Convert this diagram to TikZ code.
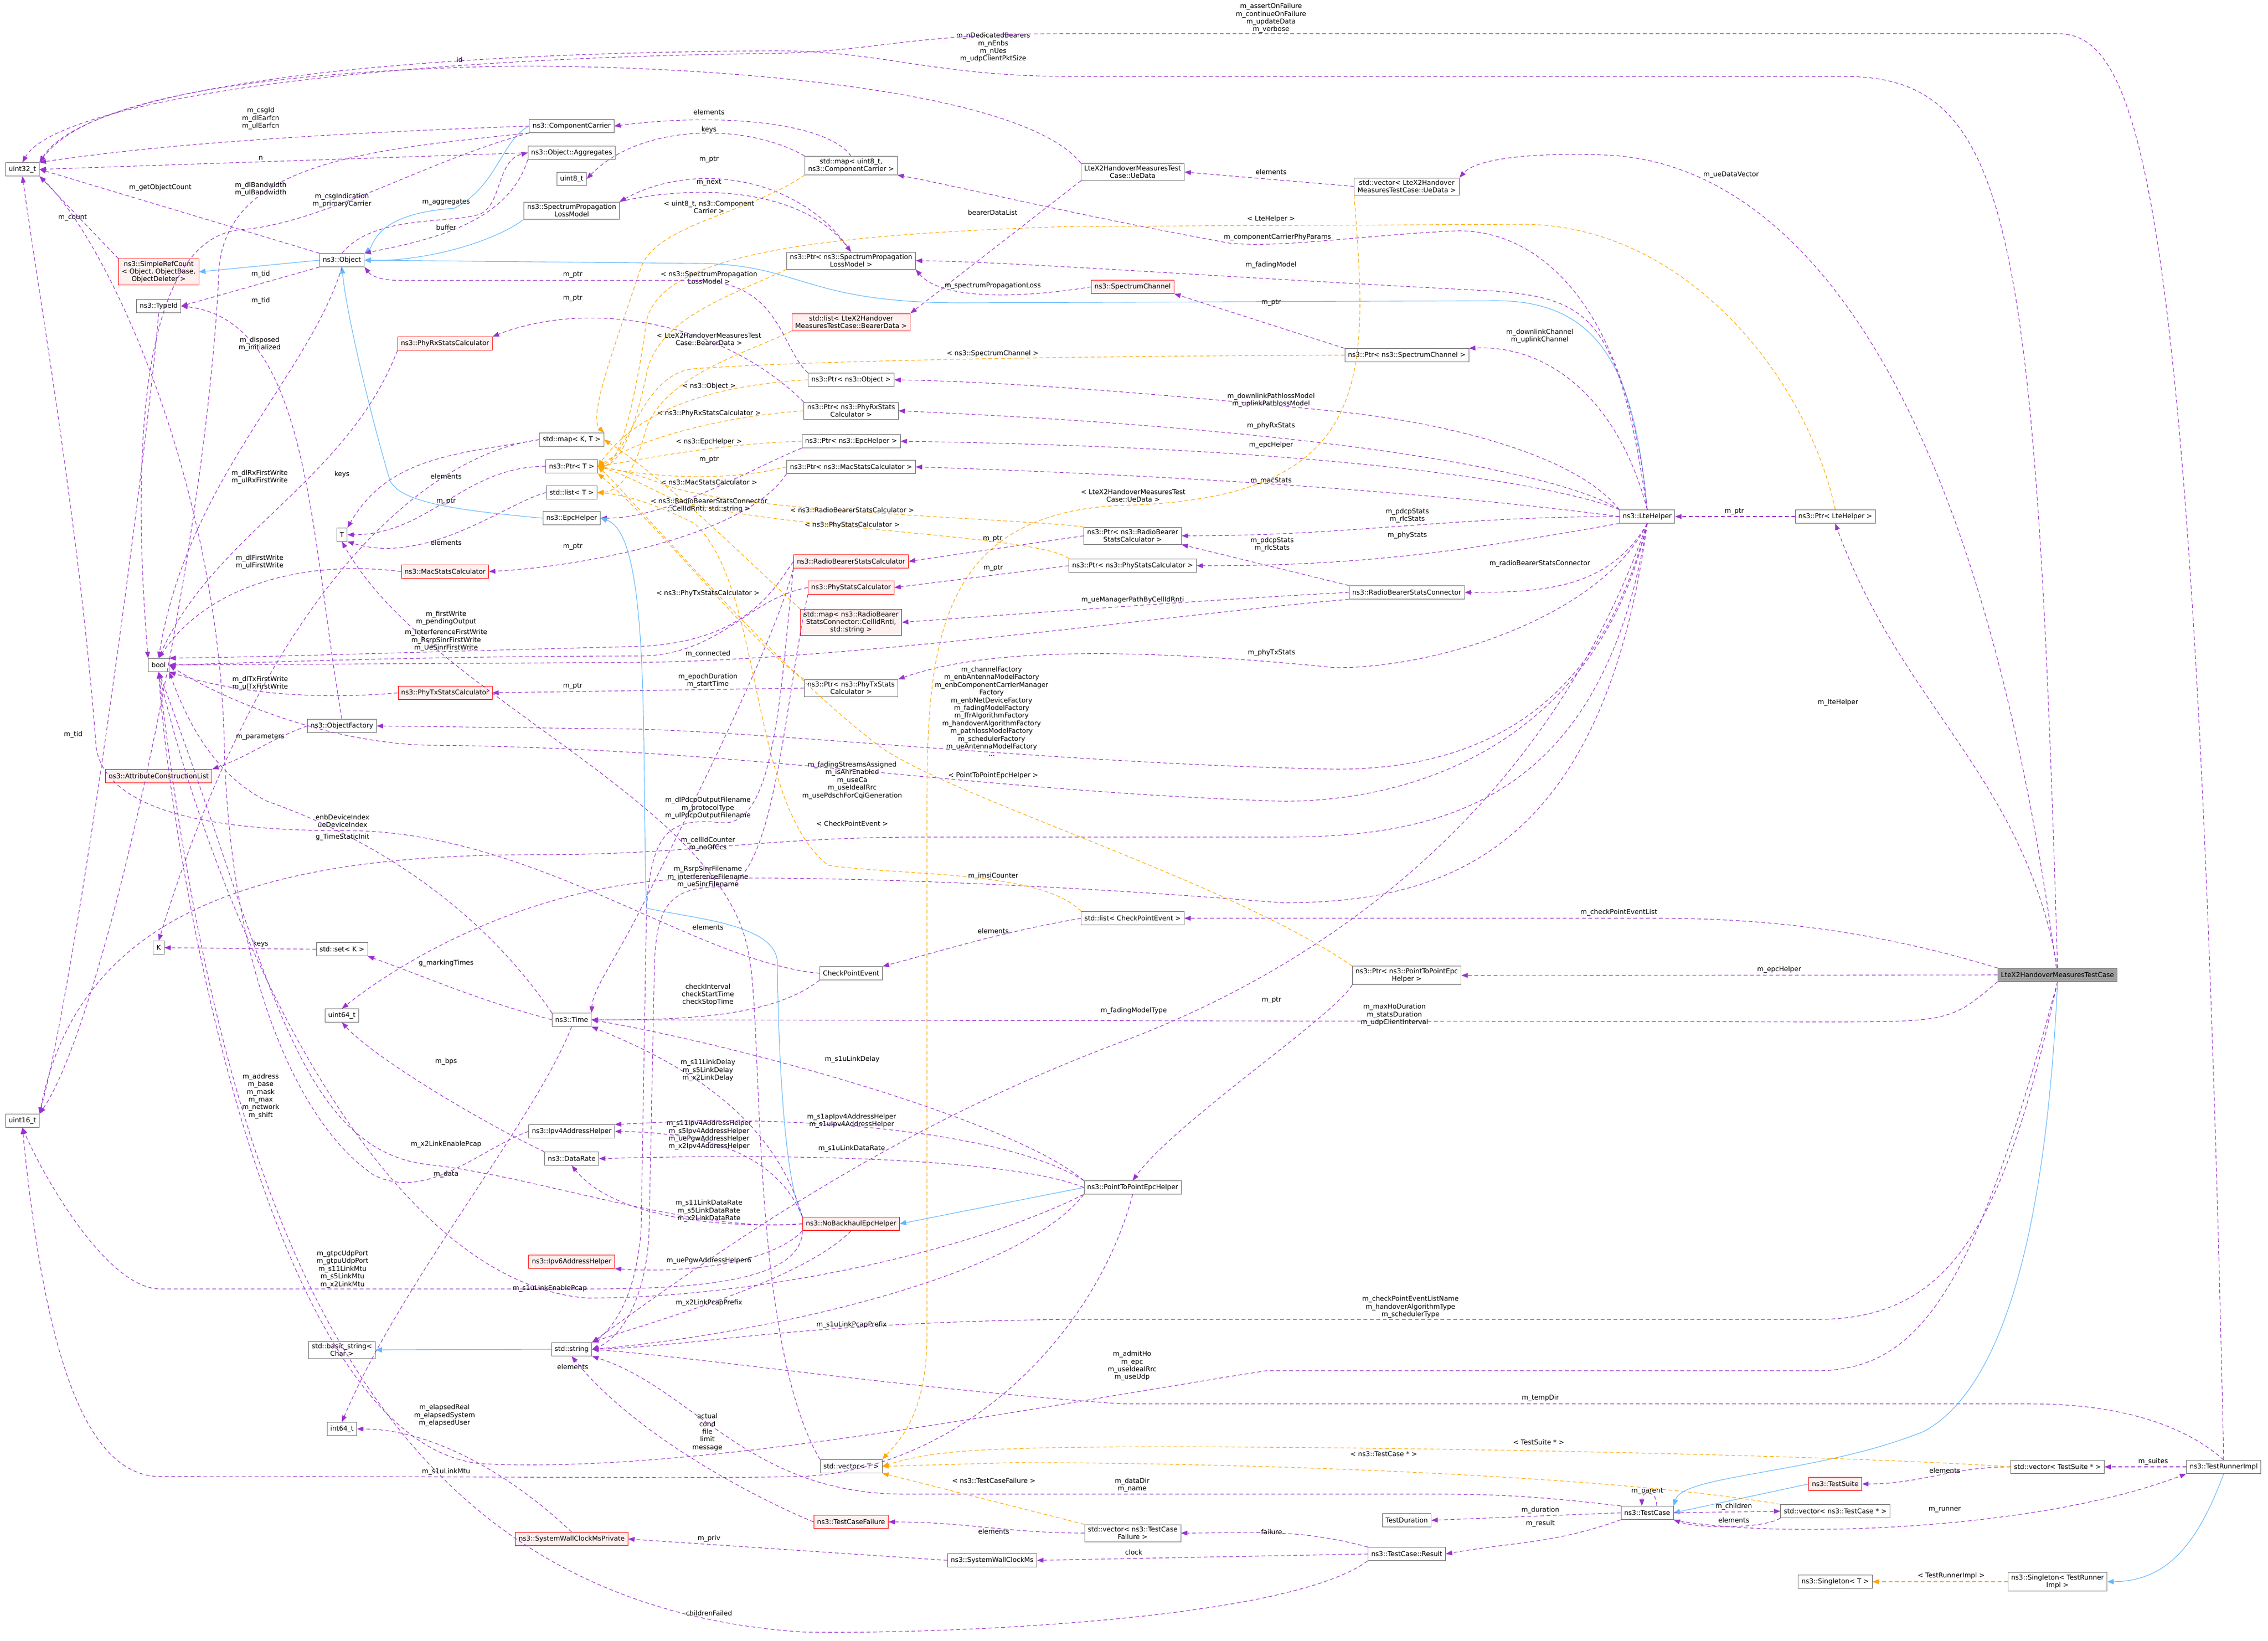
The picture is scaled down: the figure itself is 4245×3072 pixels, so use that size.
\documentclass[tikz,border=0pt]{standalone}
\usepackage{fontspec}
\setmainfont{DejaVu Sans}
\usetikzlibrary{arrows.meta}
\definecolor{purp}{RGB}{154,50,205}
\definecolor{blu}{RGB}{99,184,255}
\definecolor{orng}{RGB}{255,165,0}
\definecolor{bgray}{RGB}{110,110,110}
\definecolor{rfill}{RGB}{255,240,240}
\newcounter{labc}
\newcommand\lab[3]{\stepcounter{labc}\node[lbl] (lab\arabic{labc}) at (#1,-#2) {#3};}
\begin{document}
\begin{tikzpicture}[x=1pt,y=1pt,
  font=\fontsize{12.5}{14.4}\selectfont,
  box/.style={draw=bgray,fill=white,line width=0.9pt,inner xsep=6pt,inner ysep=4pt,align=center,minimum height=25pt},
  rbox/.style={box,draw=red,fill=rfill},
  mbox/.style={box,fill=gray!75},
  lbl/.style={inner sep=0pt,align=center},
  pu/.style={draw=purp,line width=1.1pt,dash pattern=on 7pt off 5pt,-{Triangle[length=12pt,width=9pt]}},
  inh/.style={draw=blu,line width=1.1pt,-{Triangle[length=12pt,width=10pt]}},
  tp/.style={draw=orng,line width=1.1pt,dash pattern=on 7pt off 5pt,-{Triangle[length=12pt,width=9pt]}}]
\useasboundingbox[fill=white] (0,0) rectangle (4245,-3072);
% nodes
\node[box] (u32) at (42,-317) {uint32\_t};
\node[rbox] (src) at (297,-509) {ns3::SimpleRefCount\\< Object, ObjectBase,\\ObjectDeleter >};
\node[box] (tid) at (297,-573) {ns3::TypeId};
\node[box] (obj) at (640,-487) {ns3::Object};
\node[rbox] (phyrx) at (833,-643) {ns3::PhyRxStatsCalculator};
\node[box] (T) at (640,-1001) {T};
\node[rbox] (mac) at (833,-1070) {ns3::MacStatsCalculator};
\node[box] (cc) at (1070,-236) {ns3::ComponentCarrier};
\node[box] (agg) at (1070,-286) {ns3::Object::Aggregates};
\node[box] (u8) at (1070,-335) {uint8\_t};
\node[box] (splm) at (1070,-394) {ns3::SpectrumPropagation\\LossModel};
\node[box] (mapcc) at (1593,-310) {std::map< uint8\_t,\\ns3::ComponentCarrier >};
\node[box] (pspl) at (1593,-488) {ns3::Ptr< ns3::SpectrumPropagation\\LossModel >};
\node[rbox] (lbd) at (1593,-603) {std::list< LteX2Handover\\MeasuresTestCase::BearerData >};
\node[box] (pobj) at (1593,-711) {ns3::Ptr< ns3::Object >};
\node[box] (pphyrx) at (1593,-769) {ns3::Ptr< ns3::PhyRxStats\\Calculator >};
\node[box] (pepc) at (1593,-826) {ns3::Ptr< ns3::EpcHelper >};
\node[box] (pmac) at (1593,-874) {ns3::Ptr< ns3::MacStatsCalculator >};
\node[box] (mapkt) at (1070,-823) {std::map< K, T >};
\node[box] (ptrt) at (1070,-873) {ns3::Ptr< T >};
\node[box] (listt) at (1070,-922) {std::list< T >};
\node[box] (epc) at (1070,-970) {ns3::EpcHelper};
\node[rbox] (rbsc) at (1593,-1051) {ns3::RadioBearerStatsCalculator};
\node[rbox] (phys) at (1593,-1100) {ns3::PhyStatsCalculator};
\node[rbox] (mapcir) at (1593,-1165) {std::map< ns3::RadioBearer\\StatsConnector::CellIdRnti,\\std::string >};
\node[box] (pphytx) at (1593,-1288) {ns3::Ptr< ns3::PhyTxStats\\Calculator >};
\node[box] (uedata) at (2120,-322) {LteX2HandoverMeasuresTest\\Case::UeData};
\node[box] (vued) at (2633,-349) {std::vector< LteX2Handover\\MeasuresTestCase::UeData >};
\node[rbox] (spch) at (2120,-537) {ns3::SpectrumChannel};
\node[box] (pspch) at (2633,-665) {ns3::Ptr< ns3::SpectrumChannel >};
\node[box] (lte) at (3083,-967) {ns3::LteHelper};
\node[box] (prbsc) at (2120,-1003) {ns3::Ptr< ns3::RadioBearer\\StatsCalculator >};
\node[box] (pphys) at (2120,-1059) {ns3::Ptr< ns3::PhyStatsCalculator >};
\node[box] (rbscon) at (2633,-1109) {ns3::RadioBearerStatsConnector};
\node[box] (plte) at (3435,-967) {ns3::Ptr< LteHelper >};
\node[box] (bool) at (297,-1245) {bool};
\node[rbox] (phytx) at (833,-1297) {ns3::PhyTxStatsCalculator};
\node[box] (ofac) at (640,-1359) {ns3::ObjectFactory};
\node[rbox] (acl) at (297,-1453) {ns3::AttributeConstructionList};
\node[box] (K) at (297,-1774) {K};
\node[box] (setk) at (640,-1777) {std::set< K >};
\node[box] (u64) at (640,-1901) {uint64\_t};
\node[box] (time) at (1070,-1909) {ns3::Time};
\node[box] (lcpe) at (2120,-1719) {std::list< CheckPointEvent >};
\node[box] (cpe) at (1593,-1822) {CheckPointEvent};
\node[box] (pp2p) at (2633,-1826) {ns3::Ptr< ns3::PointToPointEpc\\Helper >};
\node[mbox] (main) at (3851,-1825) {LteX2HandoverMeasuresTestCase};
\node[box] (u16) at (42,-2098) {uint16\_t};
\node[box] (ipv4) at (1070,-2118) {ns3::Ipv4AddressHelper};
\node[box] (drate) at (1070,-2169) {ns3::DataRate};
\node[rbox] (nobh) at (1593,-2291) {ns3::NoBackhaulEpcHelper};
\node[rbox] (ipv6) at (1070,-2362) {ns3::Ipv6AddressHelper};
\node[box] (bstr) at (640,-2527) {std::basic\_string<\\Char >};
\node[box] (str) at (1070,-2526) {std::string};
\node[box] (i64) at (640,-2675) {int64\_t};
\node[box] (p2p) at (2120,-2223) {ns3::PointToPointEpcHelper};
\node[box] (vect) at (1593,-2745) {std::vector< T >};
\node[rbox] (tcf) at (1593,-2849) {ns3::TestCaseFailure};
\node[rbox] (swcmp) at (1070,-2881) {ns3::SystemWallClockMsPrivate};
\node[box] (vtcf) at (2120,-2870) {std::vector< ns3::TestCase\\Failure >};
\node[box] (swcm) at (1857,-2921) {ns3::SystemWallClockMs};
\node[box] (tdur) at (2633,-2846) {TestDuration};
\node[box] (res) at (2633,-2909) {ns3::TestCase::Result};
\node[box] (tc) at (3083,-2832) {ns3::TestCase};
\node[box] (vtc) at (3435,-2829) {std::vector< ns3::TestCase * >};
\node[rbox] (ts) at (3435,-2778) {ns3::TestSuite};
\node[box] (vts) at (3851,-2746) {std::vector< TestSuite * >};
\node[box] (tr) at (4162,-2746) {ns3::TestRunnerImpl};
\node[box] (singt) at (3435,-2961) {ns3::Singleton< T >};
\node[box] (singtr) at (3851,-2961) {ns3::Singleton< TestRunner\\Impl >};
% ---- main test case
\draw[pu] (main.north) .. controls (3810,-400) and (3760,-143) .. (3450,-143) -- (2000,-143) .. controls (1750,-143) and (1650,-95) .. (1450,-95) .. controls (600,-100) and (150,-180) .. (u32.north east);
\lab{1859}{89}{m\_nDedicatedBearers\\m\_nEnbs\\m\_nUes\\m\_udpClientPktSize}
\draw[pu] (tr.north) .. controls (4110,-300) and (4000,-63) .. (3850,-63) -- (2000,-63) .. controls (1700,-63) and (1650,-95) .. (1450,-100) .. controls (600,-110) and (100,-200) .. (u32.north);
\lab{2379}{34}{m\_assertOnFailure\\m\_continueOnFailure\\m\_updateData\\m\_verbose}
\draw[pu] (main.100) .. controls (3700,-700) and (3350,-300) .. (3000,-290) .. controls (2850,-285) and (2760,-300) .. (vued.north east);
\lab{3240}{327}{m\_ueDataVector}
\draw[pu] (main.north) to[out=100,in=-70] (plte.south);
\lab{3440}{1315}{m\_lteHelper}
\draw[pu] (main.north west) .. controls (3500,-1740) and (3300,-1719) .. (3100,-1719) -- (lcpe.east);
\lab{3030}{1708}{m\_checkPointEventList}
\draw[pu] (main.west) -- (pp2p.east);
\lab{3330}{1815}{m\_epcHelper}
\draw[pu] (main.south west) .. controls (3650,-1913) .. (3400,-1913) -- (time.east);
\lab{2610}{1900}{m\_maxHoDuration\\m\_statsDuration\\m\_udpClientInterval}
\draw[pu] (main.south) .. controls (3750,-2300) and (3650,-2470) .. (3400,-2470) -- (2000,-2470) .. controls (1500,-2475) and (1300,-2520) .. (str.east);
\lab{2640}{2447}{m\_checkPointEventListName\\m\_handoverAlgorithmType\\m\_schedulerType}
\draw[pu] (main.south) .. controls (3700,-2400) and (3600,-2566) .. (3400,-2566) -- (2370,-2566) .. controls (1900,-2640) and (1300,-2760) .. (900,-2740) .. controls (500,-2700) and (320,-1600) .. (bool.south);
\lab{2119}{2557}{m\_admitHo\\m\_epc\\m\_useIdealRrc\\m\_useUdp}
\draw[inh] (main.south) .. controls (3830,-2300) and (3750,-2600) .. (3600,-2680) .. controls (3400,-2760) and (3150,-2760) .. (tc.north east);
% ---- test runner
\draw[pu] (tr.west) -- (vts.east);
\lab{4030}{2736}{m\_suites}
\draw[pu] (tr.north) .. controls (4080,-2660) and (3950,-2628) .. (3800,-2628) -- (2100,-2628) .. controls (1700,-2600) and (1300,-2540) .. (str.east);
\lab{2883}{2617}{m\_tempDir}
\draw[inh] (tr.south) .. controls (4110,-2900) and (4050,-2960) .. (singtr.east);
\draw[tp] (singtr.west) -- (singt.east);
\lab{3652}{2950}{< TestRunnerImpl >}
\draw[pu] (tc.south east) .. controls (3300,-2880) and (3800,-2870) .. (tr.south west);
\lab{3640}{2826}{m\_runner}
\draw[pu] (vts.west) to[out=180,in=0] (ts.east);
\lab{3640}{2753}{elements}
\draw[tp] (vts.west) .. controls (3400,-2720) and (2200,-2700) .. (1900,-2712) .. controls (1750,-2716) and (1700,-2730) .. (vect.east);
\lab{2880}{2700}{< TestSuite * >}
\draw[inh] (ts.west) -- (tc.east);
\draw[pu] ([xshift=18pt]tc.north) .. controls +(0,30) and +(0,30) .. ([xshift=-10pt]tc.north);
\lab{3083}{2792}{m\_parent}
\draw[pu] (tc.east) -- (vtc.west);
\lab{3245}{2820}{m\_children}
\draw[pu] (vtc.south west) .. controls (3300,-2862) and (3180,-2862) .. (tc.south east);
\lab{3245}{2846}{elements}
\draw[tp] (vtc.north west) .. controls (3000,-2760) and (2300,-2738) .. (1900,-2738) -- (vect.east);
\lab{2590}{2722}{< ns3::TestCase * >}
\draw[pu] (tc.west) -- (tdur.east);
\lab{2883}{2827}{m\_duration}
\draw[pu] (tc.south west) to[out=200,in=10] (res.east);
\lab{2883}{2852}{m\_result}
\draw[pu] (tc.north west) .. controls (2950,-2810) and (2850,-2797) .. (2700,-2797) -- (1700,-2797) .. controls (1400,-2800) and (1300,-2600) .. (str.south east);
\lab{2119}{2780}{m\_dataDir\\m\_name}
\draw[pu] (res.north west) to[out=165,in=0] (vtcf.east);
\lab{2380}{2868}{failure}
\draw[pu] (res.west) -- (swcm.east);
\lab{2122}{2906}{clock}
\draw[pu] (res.south west) .. controls (2400,-3040) and (1700,-3060) .. (1500,-3055) .. controls (700,-3000) and (420,-2300) .. (bool.south);
\lab{1327}{3020}{childrenFailed}
\draw[pu] (swcm.west) -- (swcmp.east);
\lab{1327}{2880}{m\_priv}
\draw[pu] (swcmp.north) .. controls (945,-2750) and (800,-2675) .. (i64.east);
\lab{832}{2650}{m\_elapsedReal\\m\_elapsedSystem\\m\_elapsedUser}
\draw[pu] (vtcf.west) to[out=180,in=0] (tcf.east);
\lab{1860}{2867}{elements}
\draw[tp] (vtcf.north west) -- (vect.south east);
\lab{1860}{2772}{< ns3::TestCaseFailure >}
\draw[pu] (tcf.west) .. controls (1450,-2820) and (1200,-2700) .. (str.south);
\lab{1324}{2681}{actual\\cond\\file\\limit\\message}
\draw[pu] (vect.north west) .. controls (1400,-2500) and (1430,-1900) .. (1400,-1780) .. controls (1350,-1500) and (800,-1300) .. (T.south);
\lab{1325}{1736}{elements}
\lab{1072}{2559}{elements}
% ---- lte helper
\draw[pu] (plte.west) -- (lte.east);
\lab{3246}{958}{m\_ptr}
\draw[tp] (plte.north) .. controls (3380,-700) and (3150,-420) .. (2850,-420) -- (2000,-424) .. controls (1500,-440) and (1240,-480) .. (1210,-600) .. controls (1190,-750) and (1160,-870) .. (ptrt.east);
\lab{2379}{410}{< LteHelper >}
\draw[inh] (lte.north) .. controls (3060,-700) and (3000,-563) .. (2800,-563) -- (1800,-567) .. controls (1500,-567) and (1500,-493) .. (1300,-493) -- (obj.east);
\draw[pu] (lte.north) .. controls (3050,-600) and (2900,-432) .. (2729,-432) .. controls (2550,-440) and (2400,-465) .. (2300,-455) .. controls (2000,-400) and (1800,-350) .. (mapcc.south east);
\lab{2391}{444}{m\_componentCarrierPhyParams}
\draw[pu] (lte.north) .. controls (3030,-600) and (2980,-560) .. (2800,-545) .. controls (2300,-520) and (1900,-490) .. (pspl.east);
\lab{2379}{496}{m\_fadingModel}
\draw[pu] (lte.north) .. controls (3030,-750) and (2900,-645) .. (pspch.north east);
\lab{2882}{629}{m\_downlinkChannel\\m\_uplinkChannel}
\draw[pu] (lte.north west) .. controls (2950,-850) and (2700,-790) .. (2500,-770) .. controls (2200,-740) and (1900,-715) .. (pobj.east);
\lab{2379}{749}{m\_downlinkPathlossModel\\m\_uplinkPathlossModel}
\draw[pu] (lte.north west) .. controls (2950,-900) and (2600,-810) .. (pphyrx.east);
\lab{2379}{797}{m\_phyRxStats}
\draw[pu] (lte.north west) .. controls (2950,-920) and (2600,-840) .. (pepc.east);
\lab{2379}{833}{m\_epcHelper}
\draw[pu] (lte.west) .. controls (2900,-950) and (2500,-900) .. (pmac.east);
\lab{2379}{900}{m\_macStats}
\draw[pu] (lte.west) to[out=180,in=0] (prbsc.east);
\lab{2634}{965}{m\_pdcpStats\\m\_rlcStats}
\draw[pu] (lte.south west) to[out=190,in=0] (pphys.east);
\lab{2634}{1002}{m\_phyStats}
\draw[pu] (lte.south) to[out=240,in=0] (rbscon.east);
\lab{2882}{1055}{m\_radioBearerStatsConnector}
\draw[pu] (lte.south) .. controls (3000,-1150) and (2700,-1250) .. (2500,-1250) .. controls (2000,-1200) and (1800,-1230) .. (pphytx.north east);
\lab{2380}{1222}{m\_phyTxStats}
\draw[pu] (lte.south) .. controls (3000,-1300) and (2800,-1440) .. (2500,-1440) .. controls (2000,-1430) and (1500,-1375) .. (1200,-1365) -- (ofac.east);
\lab{1856}{1332}{m\_channelFactory\\m\_enbAntennaModelFactory\\m\_enbComponentCarrierManager\\Factory\\m\_enbNetDeviceFactory\\m\_fadingModelFactory\\m\_ffrAlgorithmFactory\\m\_handoverAlgorithmFactory\\m\_pathlossModelFactory\\m\_schedulerFactory\\m\_ueAntennaModelFactory\\...}
\draw[pu] (lte.south) .. controls (3000,-1350) and (2700,-1500) .. (2400,-1500) .. controls (1800,-1480) and (1400,-1400) .. (800,-1395) .. controls (600,-1390) and (400,-1300) .. (bool.east);
\lab{1595}{1461}{m\_fadingStreamsAssigned\\m\_isAnrEnabled\\m\_useCa\\m\_useIdealRrc\\m\_usePdschForCqiGeneration}
\draw[pu] (lte.south) .. controls (3000,-1500) and (2700,-1567) .. (2400,-1567) -- (1700,-1567) .. controls (1400,-1570) and (1300,-1600) .. (1000,-1600) .. controls (500,-1600) and (150,-1700) .. (u16.north east);
\lab{1325}{1580}{m\_cellIdCounter\\m\_noOfCcs}
\draw[pu] (lte.south) .. controls (3000,-1600) and (2700,-1690) .. (2400,-1690) .. controls (1900,-1650) and (1500,-1640) .. (1300,-1645) .. controls (1000,-1650) and (750,-1800) .. (u64.north);
\lab{1859}{1640}{m\_imsiCounter}
\draw[pu] (lte.south) .. controls (2900,-1500) and (2500,-1800) .. (2100,-1950) .. controls (1700,-2100) and (1400,-2300) .. (str.north east);
\lab{2122}{1892}{m\_fadingModelType}
\draw[pu] (pp2p.south west) .. controls (2500,-1900) and (2200,-2100) .. (p2p.north);
\lab{2380}{1873}{m\_ptr}
\draw[tp] (pp2p.north west) .. controls (2300,-1650) and (1800,-1500) .. (1650,-1400) .. controls (1450,-1250) and (1200,-950) .. (ptrt.east);
\lab{1859}{1452}{< PointToPointEpcHelper >}
\draw[pu] (lcpe.west) to[out=190,in=15] (cpe.north east);
\lab{1859}{1743}{elements}
\draw[tp] (lcpe.north west) .. controls (1950,-1630) and (1700,-1640) .. (1550,-1620) .. controls (1400,-1500) and (1430,-1100) .. (1300,-980) .. controls (1200,-930) and (1150,-925) .. (listt.east);
\lab{1595}{1542}{< CheckPointEvent >}
\draw[pu] (cpe.south west) .. controls (1450,-1900) and (1300,-1910) .. (time.east);
\lab{1325}{1862}{checkInterval\\checkStartTime\\checkStopTime}
\draw[pu] (cpe.west) .. controls (1300,-1800) and (1000,-1556) .. (650,-1555) .. controls (400,-1556) and (200,-1520) .. (180,-1400) .. controls (150,-1000) and (80,-600) .. (u32.south);
\lab{641}{1537}{enbDeviceIndex\\ueDeviceIndex}
\draw[pu] (time.north west) .. controls (900,-1700) and (700,-1570) .. (500,-1500) .. controls (400,-1450) and (350,-1350) .. (bool.south east);
\lab{641}{1567}{g\_TimeStaticInit}
\draw[pu] (time.west) to[out=165,in=-20] (setk.south east);
\lab{835}{1803}{g\_markingTimes}
\draw[pu] (setk.west) -- (K.east);
\lab{488}{1767}{keys}
\draw[pu] (time.south) .. controls (1000,-2100) and (750,-2400) .. (i64.north);
\lab{835}{2198}{m\_data}
\draw[pu] (drate.north west) .. controls (900,-2100) and (700,-1980) .. (u64.south);
\lab{835}{1987}{m\_bps}
% ---- templates & objects
\draw[pu] (mapkt.west) .. controls (800,-850) and (500,-1100) .. (K.north);
\lab{640}{888}{keys}
\draw[pu] (mapkt.west) to[out=190,in=60] (T.north east);
\lab{835}{892}{elements}
\draw[pu] (ptrt.west) to[out=180,in=0] (T.east);
\lab{835}{939}{m\_ptr}
\draw[pu] (listt.west) .. controls (950,-940) and (800,-1060) .. (T.south east);
\lab{835}{1016}{elements}
\draw[inh] (epc.west) .. controls (850,-955) and (750,-940) .. (730,-900) .. controls (700,-800) and (650,-600) .. (obj.south);
\draw[inh] (cc.west) .. controls (940,-260) and (930,-350) .. (850,-390) .. controls (700,-400) and (700,-460) .. (obj.north east);
\draw[inh] (splm.south west) .. controls (930,-450) and (800,-490) .. (obj.east);
\draw[inh] (obj.west) -- (src.east);
\draw[pu] (obj.north west) -- (u32.east);
\lab{300}{351}{m\_getObjectCount}
\draw[pu] (src.north west) -- (u32.south east);
\lab{136}{408}{m\_count}
\draw[pu] (obj.south west) -- (tid.east);
\lab{488}{513}{m\_tid}
\draw[pu] (ofac.north) .. controls (580,-1000) and (580,-600) .. (tid.east);
\lab{488}{563}{m\_tid}
\draw[pu] (obj.south) .. controls (580,-700) and (350,-900) .. (bool.north);
\lab{486}{644}{m\_disposed\\m\_initialized}
\draw[pu] (tid.south) .. controls (280,-800) and (150,-1800) .. (u16.north east);
\lab{137}{1375}{m\_tid}
\draw[pu] (ofac.west) to[out=200,in=20] (acl.north east);
\lab{487}{1380}{m\_parameters}
\draw[pu] (cc.west) .. controls (600,-250) and (300,-270) .. (u32.north east);
\lab{488}{222}{m\_csgId\\m\_dlEarfcn\\m\_ulEarfcn}
\draw[pu] (cc.south west) .. controls (700,-280) and (430,-300) .. (410,-500) .. controls (390,-1000) and (200,-1900) .. (u16.north east);
\lab{488}{354}{m\_dlBandwidth\\m\_ulBandwidth}
\draw[pu] (cc.south west) .. controls (800,-300) and (600,-420) .. (450,-430) .. controls (250,-450) and (250,-900) .. (bool.north west);
\lab{640}{375}{m\_csgIndication\\m\_primaryCarrier}
\draw[pu] (agg.west) -- (u32.east);
\lab{488}{296}{n}
\draw[pu] (obj.north) .. controls (700,-400) and (850,-420) .. (900,-400) .. controls (940,-380) and (930,-300) .. (agg.west);
\lab{835}{379}{m\_aggregates}
\draw[pu] (agg.south west) .. controls (950,-420) and (800,-450) .. (obj.north east);
\lab{835}{426}{buffer}
\draw[pu] (mapcc.north) .. controls (1550,-230) and (1350,-210) .. (cc.east);
\lab{1327}{210}{elements}
\draw[pu] (mapcc.north west) .. controls (1400,-230) and (1200,-230) .. (u8.east);
\lab{1327}{243}{keys}
\draw[pu] (pspl.north) .. controls (1500,-330) and (1300,-300) .. (splm.north east);
\lab{1327}{299}{m\_ptr}
\draw[pu] (splm.north east) .. controls (1300,-345) and (1500,-350) .. (pspl.north);
\lab{1327}{342}{m\_next}
\draw[tp] (mapcc.south west) .. controls (1400,-400) and (1230,-420) .. (1200,-500) .. controls (1150,-650) and (1100,-780) .. (mapkt.north east);
\lab{1327}{388}{< uint8\_t, ns3::Component\\Carrier >}
\draw[pu] (uedata.north west) .. controls (1900,-150) and (1200,-117) .. (900,-125) .. controls (400,-140) and (150,-200) .. (u32.north east);
\lab{860}{112}{id}
\draw[pu] (uedata.south west) -- (lbd.north east);
\lab{1858}{398}{bearerDataList}
\draw[pu] (vued.west) -- (uedata.east);
\lab{2379}{322}{elements}
\draw[tp] (vued.south west) .. controls (2560,-700) and (2580,-935) .. (2100,-946) .. controls (1760,-960) and (1735,-1200) .. (1735,-1500) -- (1735,-2500) .. controls (1735,-2650) and (1680,-2700) .. (vect.north east);
\lab{2121}{928}{< LteX2HandoverMeasuresTest\\Case::UeData >}
\draw[tp] (lbd.south west) .. controls (1400,-660) and (1250,-700) .. (1210,-800) .. controls (1190,-880) and (1160,-920) .. (listt.east);
\lab{1327}{635}{< LteX2HandoverMeasuresTest\\Case::BearerData >}
\draw[tp] (pspl.south west) .. controls (1350,-560) and (1230,-600) .. (1210,-700) .. controls (1190,-800) and (1160,-870) .. (ptrt.east);
\lab{1327}{520}{< ns3::SpectrumPropagation\\LossModel >}
\draw[pu] (spch.west) .. controls (1900,-560) and (1760,-560) .. (pspl.south east);
\lab{1858}{535}{m\_spectrumPropagationLoss}
\draw[pu] (pspch.north west) -- (spch.south east);
\lab{2379}{567}{m\_ptr}
\draw[tp] (pspch.west) .. controls (2300,-665) and (1600,-670) .. (1300,-690) .. controls (1200,-700) and (1180,-850) .. (ptrt.east);
\lab{1858}{662}{< ns3::SpectrumChannel >}
\draw[pu] (pobj.north west) .. controls (1460,-650) and (1460,-525) .. (1300,-525) -- (750,-525) .. controls (700,-525) and (690,-510) .. (obj.south east);
\lab{1072}{515}{m\_ptr}
\draw[tp] (pobj.west) .. controls (1350,-720) and (1200,-760) .. (ptrt.east);
\lab{1327}{723}{< ns3::Object >}
\draw[pu] (pphyrx.north west) .. controls (1350,-600) and (1100,-560) .. (phyrx.north east);
\lab{1072}{559}{m\_ptr}
\draw[tp] (pphyrx.west) .. controls (1350,-780) and (1200,-820) .. (ptrt.east);
\lab{1327}{774}{< ns3::PhyRxStatsCalculator >}
\draw[pu] (pepc.south west) .. controls (1400,-880) and (1250,-970) .. (epc.east);
\lab{1327}{861}{m\_ptr}
\draw[tp] (pepc.west) .. controls (1350,-830) and (1200,-860) .. (ptrt.east);
\lab{1327}{827}{< ns3::EpcHelper >}
\draw[pu] (pmac.south west) .. controls (1400,-1000) and (1100,-1060) .. (mac.east);
\lab{1072}{1024}{m\_ptr}
\draw[tp] (pmac.west) .. controls (1350,-905) and (1200,-890) .. (ptrt.east);
\lab{1327}{903}{< ns3::MacStatsCalculator >}
\draw[pu] (prbsc.west) -- (rbsc.east);
\lab{1858}{1009}{m\_ptr}
\draw[tp] (prbsc.north west) .. controls (1900,-970) and (1400,-960) .. (1250,-910) .. controls (1200,-890) and (1160,-880) .. (ptrt.east);
\lab{1595}{955}{< ns3::RadioBearerStatsCalculator >}
\draw[pu] (pphys.west) -- (phys.east);
\lab{1859}{1064}{m\_ptr}
\draw[tp] (pphys.north west) .. controls (1950,-1000) and (1400,-990) .. (1250,-930) .. controls (1200,-905) and (1160,-885) .. (ptrt.east);
\lab{1595}{983}{< ns3::PhyStatsCalculator >}
\draw[pu] (pphytx.west) -- (phytx.east);
\lab{1072}{1285}{m\_ptr}
\draw[tp] (pphytx.north west) .. controls (1400,-1200) and (1250,-1000) .. (ptrt.south east);
\lab{1325}{1111}{< ns3::PhyTxStatsCalculator >}
\draw[tp] (mapcir.north west) .. controls (1400,-1050) and (1250,-900) .. (mapkt.east);
\lab{1327}{946}{< ns3::RadioBearerStatsConnector\\::CellIdRnti, std::string >}
\draw[pu] (rbscon.west) .. controls (2300,-1120) and (1900,-1150) .. (mapcir.east);
\lab{2120}{1123}{m\_ueManagerPathByCellIdRnti}
\draw[pu] (rbscon.north west) -- (prbsc.south east);
\lab{2381}{1019}{m\_pdcpStats\\m\_rlcStats}
\draw[pu] (rbscon.south west) .. controls (2200,-1150) and (1600,-1235) .. (1200,-1240) -- (bool.east);
\lab{1325}{1224}{m\_connected}
\draw[pu] (rbsc.west) .. controls (1450,-1100) and (1400,-1200) .. (1200,-1210) .. controls (800,-1220) and (500,-1230) .. (bool.north east);
\lab{835}{1157}{m\_firstWrite\\m\_pendingOutput}
\draw[pu] (phys.west) .. controls (1400,-1120) and (1350,-1225) .. (1200,-1228) .. controls (800,-1228) and (500,-1240) .. (bool.east);
\lab{835}{1199}{m\_InterferenceFirstWrite\\m\_RsrpSinrFirstWrite\\m\_UeSinrFirstWrite}
\draw[pu] (rbsc.south west) .. controls (1450,-1200) and (1300,-1500) .. (1200,-1700) .. controls (1150,-1800) and (1110,-1850) .. (time.north east);
\lab{1325}{1274}{m\_epochDuration\\m\_startTime}
\draw[pu] (rbsc.south west) .. controls (1460,-1300) and (1450,-1550) .. (1350,-1540) .. controls (1250,-1530) and (1220,-1560) .. (1210,-1700) -- (1200,-2300) .. controls (1190,-2450) and (1130,-2500) .. (str.north east);
\lab{1325}{1513}{m\_dlPdcpOutputFilename\\m\_protocolType\\m\_ulPdcpOutputFilename}
\draw[pu] (phys.south west) .. controls (1470,-1300) and (1450,-1660) .. (1350,-1660) .. controls (1250,-1660) and (1230,-1700) .. (1225,-1800) -- (1215,-2300) .. controls (1210,-2450) and (1150,-2510) .. (str.east);
\lab{1325}{1642}{m\_RsrpSinrFilename\\m\_interferenceFilename\\m\_ueSinrFilename}
\draw[pu] (phytx.west) .. controls (600,-1310) and (450,-1300) .. (bool.south east);
\lab{487}{1279}{m\_dlTxFirstWrite\\m\_ulTxFirstWrite}
\draw[pu] (mac.west) .. controls (600,-1050) and (400,-1080) .. (bool.north);
\lab{486}{1052}{m\_dlFirstWrite\\m\_ulFirstWrite}
\draw[pu] (phyrx.south west) .. controls (650,-900) and (400,-1000) .. (bool.north);
\lab{486}{893}{m\_dlRxFirstWrite\\m\_ulRxFirstWrite}
% ---- epc helpers
\draw[inh] (nobh.north west) .. controls (1460,-2200) and (1455,-1850) .. (1455,-1800) .. controls (1450,-1730) and (1300,-1720) .. (1210,-1700) .. controls (1200,-1400) and (1220,-1000) .. (epc.east);
\draw[inh] (p2p.west) -- (nobh.east);
\draw[pu] (nobh.north west) .. controls (1450,-2100) and (1300,-2000) .. (time.south east);
\lab{1325}{2004}{m\_s11LinkDelay\\m\_s5LinkDelay\\m\_x2LinkDelay}
\draw[pu] (p2p.north west) .. controls (1900,-2100) and (1400,-1960) .. (time.east);
\lab{1595}{1983}{m\_s1uLinkDelay}
\draw[pu] (ipv4.west) .. controls (900,-2150) and (800,-2250) .. (700,-2200) .. controls (550,-2100) and (430,-1800) .. (420,-1400) .. controls (410,-900) and (200,-450) .. (u32.south east);
\lab{488}{2052}{m\_address\\m\_base\\m\_mask\\m\_max\\m\_network\\m\_shift}
\draw[pu] (nobh.north west) .. controls (1450,-2150) and (1300,-2120) .. (ipv4.east);
\lab{1327}{2125}{m\_s11Ipv4AddressHelper\\m\_s5Ipv4AddressHelper\\m\_uePgwAddressHelper\\m\_x2Ipv4AddressHelper}
\draw[pu] (p2p.north west) .. controls (1900,-2130) and (1600,-2095) .. (1300,-2098) -- (ipv4.north east);
\lab{1594}{2098}{m\_s1apIpv4AddressHelper\\m\_s1uIpv4AddressHelper}
\draw[pu] (p2p.west) .. controls (1900,-2170) and (1500,-2158) .. (drate.east);
\lab{1594}{2150}{m\_s1uLinkDataRate}
\draw[pu] (nobh.west) .. controls (1350,-2300) and (1150,-2280) .. (drate.south);
\lab{1327}{2267}{m\_s11LinkDataRate\\m\_s5LinkDataRate\\m\_x2LinkDataRate}
\draw[pu] (nobh.west) .. controls (1300,-2310) and (1000,-2200) .. (800,-2180) .. controls (550,-2150) and (500,-1800) .. (bool.south);
\lab{835}{2142}{m\_x2LinkEnablePcap}
\draw[pu] (nobh.south west) .. controls (1450,-2360) and (1300,-2385) .. (ipv6.south east);
\lab{1327}{2360}{m\_uePgwAddressHelper6}
\draw[pu] (nobh.south west) .. controls (1500,-2400) and (1300,-2413) .. (1100,-2413) -- (300,-2413) .. controls (200,-2413) and (80,-2200) .. (u16.south);
\lab{641}{2376}{m\_gtpcUdpPort\\m\_gtpuUdpPort\\m\_s11LinkMtu\\m\_s5LinkMtu\\m\_x2LinkMtu}
\draw[pu] (p2p.south west) .. controls (1800,-2350) and (1400,-2430) .. (1100,-2430) .. controls (700,-2400) and (400,-1700) .. (bool.south);
\lab{1029}{2412}{m\_s1uLinkEnablePcap}
\draw[pu] (nobh.south) .. controls (1500,-2400) and (1200,-2480) .. (str.north east);
\lab{1327}{2439}{m\_x2LinkPcapPrefix}
\draw[pu] (p2p.south west) .. controls (1900,-2400) and (1400,-2500) .. (str.east);
\lab{1594}{2480}{m\_s1uLinkPcapPrefix}
\draw[pu] (p2p.south) .. controls (2050,-2500) and (1800,-2750) .. (1500,-2764) .. controls (1300,-2768) and (1000,-2764) .. (300,-2764) .. controls (150,-2764) and (80,-2500) .. (u16.south);
\lab{835}{2755}{m\_s1uLinkMtu}
\draw[inh] (str.west) -- (bstr.east);
\end{tikzpicture}
\end{document}
